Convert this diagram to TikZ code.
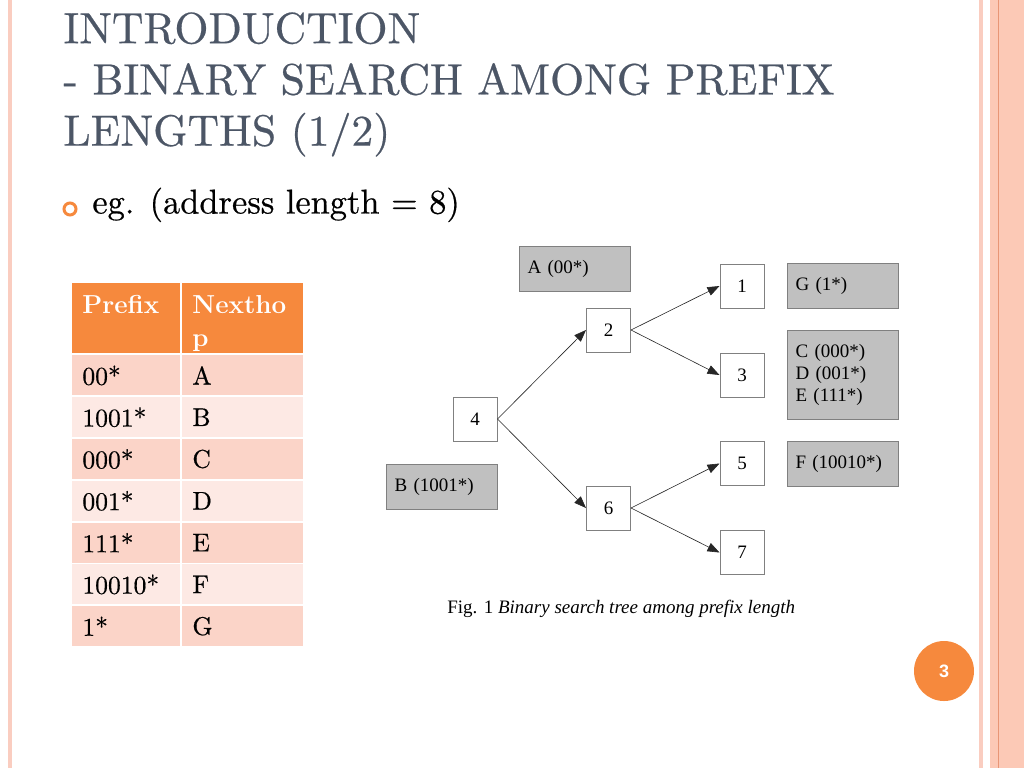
\documentclass[tikz,border=0pt]{standalone}
\usepackage{fontspec}
\newfontfamily\timesfont{Liberation Serif}
\newfontfamily\arialfont{Liberation Sans}
\newfontfamily\schola{lmroman10}[Extension=.otf, UprightFont=*-regular, BoldFont=*-bold,
  ItalicFont=*-italic, FakeBold=0.5]
\usetikzlibrary{arrows.meta}

\definecolor{titre}{RGB}{76,86,102}
\definecolor{orangeF}{RGB}{246,137,61}
\definecolor{roseA}{RGB}{251,212,200}
\definecolor{roseB}{RGB}{253,233,228}
\definecolor{bande}{RGB}{252,201,182}
\definecolor{bandeclair}{RGB}{250,205,192}
\definecolor{filet}{RGB}{232,150,118}
\definecolor{grisboite}{RGB}{192,192,192}
\definecolor{bord}{RGB}{128,128,128}

\tikzset{
  cle/.style={rectangle, draw=bord, fill=white, line width=0.5pt, minimum size=22pt, inner sep=0pt,
    font=\timesfont\fontsize{9.5}{11}\selectfont},
  feuille/.style={rectangle, draw=bord, fill=grisboite, line width=0.5pt, anchor=north west,
    text width=47.5pt, inner xsep=4pt, inner ysep=0pt, minimum height=22.5pt, align=left,
    font=\timesfont\fontsize{9.5}{11}\selectfont},
  fleche/.style={-{Triangle[length=6pt,width=4.5pt]}, line width=0.3pt, black!85},
  cell/.style={rectangle, anchor=north west, inner xsep=5pt, inner ysep=0pt, minimum height=20pt,
    align=left, font=\schola\fontsize{12.8}{17}\selectfont},
  colA/.style={cell, text width=44pt},
  colB/.style={cell, text width=50.5pt},
  entete/.style={fill=orangeF, minimum height=35pt, text=white, font=\fontsize{13}{16.5}\selectfont\bfseries}
}

\begin{document}
\begin{tikzpicture}[x=0.5pt, y=-0.5pt]

            \useasboundingbox (0,0) rectangle (1024,768);
            \fill[white] (0,0) rectangle (1024,768);

            % Bordures
            \fill[bandeclair] (8,0) rectangle (12,768);
            \fill[bandeclair] (979,0) rectangle (983,768);
            \fill[bande] (990,0) rectangle (1024,768);
            \fill[filet] (997.5,0) rectangle (998.8,768);

            % Titre
            \node[anchor=north west, align=left, inner sep=0pt, text=titre,
              font=\schola\fontsize{21.85}{25.6}\selectfont] (titre) at (63,12)
              {INTRODUCTION\\- BINARY SEARCH AMONG PREFIX\\LENGTHS (1/2)};

            % Puce
            \node[circle, draw=orangeF, line width=1.5pt, minimum size=6pt, inner sep=0pt] (puce) at (70,209) {};
            \node[anchor=base west, inner sep=0pt, font=\schola\fontsize{17.2}{20}\selectfont] (texte) at (92,213.5)
              {eg. (address length = 8)};

            % Tableau
            \node[colA, entete] (p0) at (72,283) {\rule{0pt}{14pt}Prefix\\\phantom{p}};
            \node[colB, entete] (h0) at (182,283) {\rule{0pt}{14pt}Nextho\\p};
            \node[colA, fill=roseA] (p1) at (72,355) {00*};
            \node[colB, fill=roseA] (h1) at (182,355) {A};
            \node[colA, fill=roseB] (p2) at (72,396.8) {1001*};
            \node[colB, fill=roseB] (h2) at (182,396.8) {B};
            \node[colA, fill=roseA] (p3) at (72,438.6) {000*};
            \node[colB, fill=roseA] (h3) at (182,438.6) {C};
            \node[colA, fill=roseB] (p4) at (72,480.4) {001*};
            \node[colB, fill=roseB] (h4) at (182,480.4) {D};
            \node[colA, fill=roseA] (p5) at (72,522.2) {111*};
            \node[colB, fill=roseA] (h5) at (182,522.2) {E};
            \node[colA, fill=roseB] (p6) at (72,564) {10010*};
            \node[colB, fill=roseB] (h6) at (182,564) {F};
            \node[colA, fill=roseA] (p7) at (72,605.8) {1*};
            \node[colB, fill=roseA] (h7) at (182,605.8) {G};

            % Noeuds de l'arbre
            \node[cle] (n4) at (475,419) {4};
            \node[cle] (n2) at (608.5,330) {2};
            \node[cle] (n6) at (608.5,508) {6};
            \node[cle] (n1) at (742,286) {1};
            \node[cle] (n3) at (742,375) {3};
            \node[cle] (n5) at (742,463.5) {5};
            \node[cle] (n7) at (742,552.5) {7};

            % Prefixes
            \node[feuille] (A) at (519,246) {A (00*)};
            \node[feuille] (B) at (386,464) {B (1001*)};
            \node[feuille] (G) at (787,263) {G (1*)};
            \node[feuille, minimum height=44.5pt] (CDE) at (787,330) {C (000*)\\D (001*)\\E (111*)};
            \node[feuille] (F) at (787,441) {F (10010*)};

            % Arêtes
            \draw[fleche] (n4.east) -- (n2.west);
            \draw[fleche] (n4.east) -- (n6.west);
            \draw[fleche] (n2.east) -- (n1.west);
            \draw[fleche] (n2.east) -- (n3.west);
            \draw[fleche] (n6.east) -- (n5.west);
            \draw[fleche] (n6.east) -- (n7.west);

            % Legende
            \node[anchor=base west, inner sep=0pt, font=\timesfont\fontsize{9.5}{11}\selectfont] (legende) at (447,613)
              {Fig. 1 \textit{Binary search tree among prefix length}};

            % Numero de page
            \node[circle, fill=orangeF, minimum size=30pt, inner sep=0pt, text=white,
              font=\arialfont\bfseries\fontsize{9}{10}\selectfont] (page) at (944,671) {3};

            \end{tikzpicture}
\end{document}
